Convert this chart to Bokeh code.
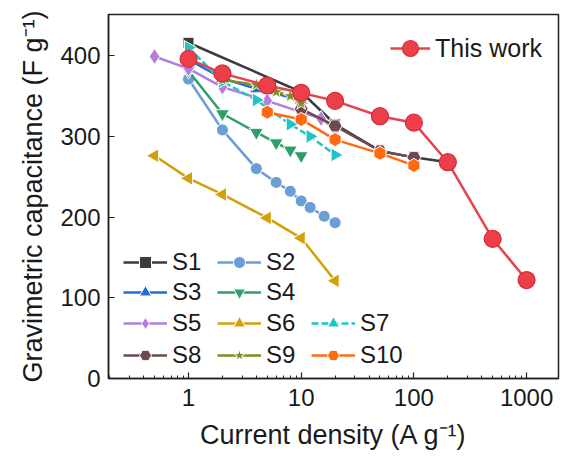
from bokeh.plotting import figure
from bokeh.models import Legend, LegendItem, FixedTicker, ColumnDataSource, NumeralTickFormatter
from bokeh.embed import file_html
from bokeh.resources import INLINE
import math

FONT = "Liberation Sans"

# ---------------- data ----------------
x_tick_values = [1, 10, 100, 1000]
x_tick_labels = ["1", "10", "100", "1000"]
y_tick_values = [0, 100, 200, 300, 400]

s1_x = [1, 10, 20, 50, 100, 200]
s1_y = [416, 355, 315, 282, 274, 268]
s2_x = [1, 2, 4, 6, 8, 10, 12, 16, 20]
s2_y = [371, 308, 260, 243, 232, 220, 212, 201, 193]
s3_x = [1, 2, 4, 10]
s3_y = [395, 372, 359, 345]
s4_x = [1, 2, 4, 6, 8, 10]
s4_y = [381, 328, 305, 292, 283, 276]
s5_x = [0.5, 1, 2, 5, 15, 20]
s5_y = [399, 384, 361, 344, 322, 309]
s6_x = [0.5, 1, 2, 5, 10, 20]
s6_y = [276, 248, 228, 199, 174, 121]
s7_x = [1, 2, 4, 8, 12, 20]
s7_y = [410, 368, 345, 315, 300, 277]
s8_x = [10, 20, 50, 100]
s8_y = [334, 313, 282, 274]
s9_x = [2, 4, 6, 8, 10]
s9_y = [370, 364, 355, 350, 341]
s10_x = [5, 10, 20, 50, 100]
s10_y = [330, 321, 296, 279, 264]
tw_x = [1, 2, 5, 10, 20, 50, 100, 200, 500, 1000]
tw_y = [396, 378, 363, 354, 344, 325, 317, 268, 173, 122]

# ---------------- figure ----------------
p = figure(width=561, height=462, x_axis_type="log",
           x_range=(0.195, 1920), y_range=(0, 451),
           output_backend="svg", toolbar_location=None,
           min_border_left=108, min_border_right=3,
           min_border_top=14, min_border_bottom=84)
p.background_fill_color = "white"
p.border_fill_color = "white"
p.outline_line_color = "#222222"
p.outline_line_width = 1.5
p.xgrid.visible = False
p.ygrid.visible = False

minor = [m * 10 ** e for e in range(-1, 4) for m in range(2, 10)]
p.xaxis.ticker = FixedTicker(ticks=x_tick_values, minor_ticks=minor)
p.xaxis.formatter = NumeralTickFormatter(format="0")
p.xaxis.major_label_overrides = {v: l for v, l in zip(x_tick_values, x_tick_labels)}
p.yaxis.ticker = FixedTicker(ticks=y_tick_values)

for ax in (p.xaxis[0], p.yaxis[0]):
    ax.axis_line_color = "#222222"
    ax.axis_line_width = 1.5
    ax.major_tick_line_color = "#222222"
    ax.major_tick_line_width = 1.2
    ax.minor_tick_line_color = "#222222"
    ax.minor_tick_line_width = 1.0
    ax.major_tick_in = 6
    ax.major_tick_out = 0
    ax.major_label_text_font = FONT
    ax.major_label_text_font_size = "24px"
    ax.major_label_text_color = "#1a1a1a"
    ax.axis_label_text_font = FONT
    ax.axis_label_text_font_size = "27px"
    ax.axis_label_text_font_style = "normal"
    ax.axis_label_text_color = "#1a1a1a"
p.xaxis.minor_tick_in = 3
p.xaxis.minor_tick_out = 0
p.yaxis.minor_tick_in = 0
p.yaxis.minor_tick_out = 0
p.xaxis.major_label_standoff = 10
p.yaxis.major_label_standoff = 8
p.xaxis.axis_label_standoff = 11
p.yaxis.axis_label_standoff = 9
p.xaxis.axis_label = "Current density (A g\u207b\u00b9)"
p.yaxis.axis_label = "Gravimetric capacitance (F g\u207b\u00b9)"


def add_series(x, y, color, marker, size, angle=0.0, dash="solid"):
    src = ColumnDataSource(dict(x=x, y=y, rot=[angle] * len(x)))
    l = p.line("x", "y", source=src, line_color=color, line_width=2.5, line_dash=dash)
    s = p.scatter("x", "y", source=src, marker=marker, size=size, angle="rot",
                  fill_color=color, line_color="white", line_width=1.0)
    return [l, s]


r1 = add_series(s1_x, s1_y, "#3c3c3c", "square", 11)
r2 = add_series(s2_x, s2_y, "#6a9ed4", "circle", 12)
r3 = add_series(s3_x, s3_y, "#1f6ed4", "triangle", 14)
r4 = add_series(s4_x, s4_y, "#2e9e6a", "inverted_triangle", 14)
r5 = add_series(s5_x, s5_y, "#b57edc", "diamond", 16)
r6 = add_series(s6_x, s6_y, "#d4a00a", "triangle", 14, angle=math.pi / 2)
r7 = add_series(s7_x, s7_y, "#20c4c8", "triangle", 14, angle=-math.pi / 2, dash="7 3")
r8 = add_series(s8_x, s8_y, "#6e4a4e", "hex", 14)
r9 = add_series(s9_x, s9_y, "#7f8c1e", "star", 15)
r10 = add_series(s10_x, s10_y, "#ff6a10", "hex", 14, angle=math.pi / 2)

tw_src = ColumnDataSource(dict(x=tw_x, y=tw_y))
tw_l = p.line("x", "y", source=tw_src, line_color="#e8434c", line_width=2.5)
tw_s = p.scatter("x", "y", source=tw_src, marker="circle", size=17,
                 fill_color="#ec3f49", line_color="#d22e38", line_width=1.2)
rtw = [tw_l, tw_s]


def mk_legend(items, loc, gw=44, gh=30, fs="24px"):
    lg = Legend(items=items, location=loc, orientation="horizontal",
                glyph_width=gw, glyph_height=gh, label_standoff=5,
                label_width=36, label_height=20, spacing=9, padding=0, margin=0,
                border_line_alpha=0, background_fill_alpha=0,
                label_text_font=FONT, label_text_font_size=fs,
                label_text_color="#1a1a1a")
    p.add_layout(lg)


mk_legend([LegendItem(label="S1", renderers=r1), LegendItem(label="S2", renderers=r2)], (15, 101))
mk_legend([LegendItem(label="S3", renderers=r3), LegendItem(label="S4", renderers=r4)], (15, 71))
mk_legend([LegendItem(label="S5", renderers=r5), LegendItem(label="S6", renderers=r6),
           LegendItem(label="S7", renderers=r7)], (15, 40))
mk_legend([LegendItem(label="S8", renderers=r8), LegendItem(label="S9", renderers=r9),
           LegendItem(label="S10", renderers=r10)], (15, 8))
mk_legend([LegendItem(label="This work", renderers=rtw)], (282, 310), gw=40, gh=40, fs="25px")

open("out.html", "w").write(file_html(p, INLINE))
